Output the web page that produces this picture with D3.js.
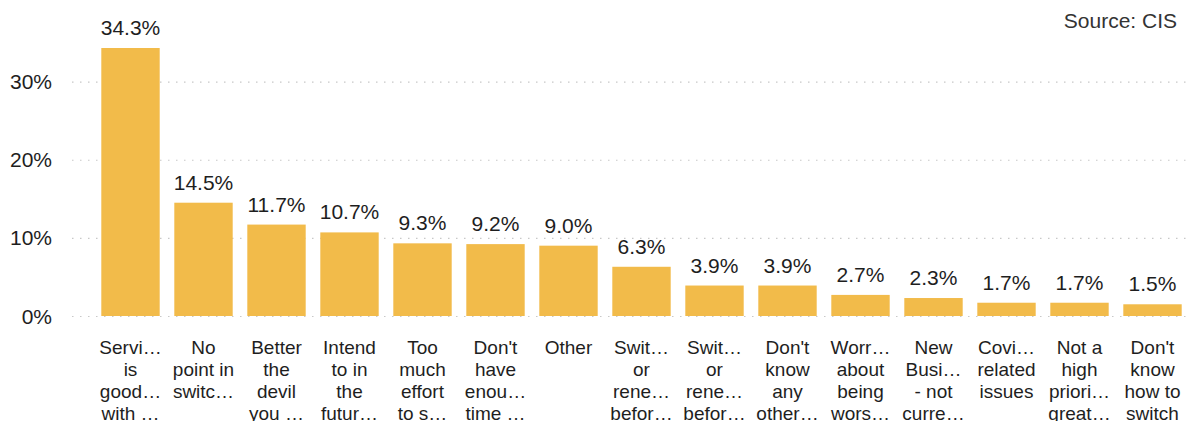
<!DOCTYPE html>
<html>
<head>
<meta charset="utf-8">
<script src="https://cdn.jsdelivr.net/npm/d3@7"></script>
<style>
  body { margin: 0; background: #fff; }
  svg text { font-family: "Liberation Sans", Arial, sans-serif; fill: #1e1e1e; }
</style>
</head>
<body>
<svg id="chart" width="1190" height="421"></svg>
<script>
// reasons for not switching, as shown (wrapped + truncated) under each bar
let categories = [
    ["Servi\u2026", "is", "good\u2026", "with \u2026"],
    ["No", "point in", "switc\u2026"],
    ["Better", "the", "devil", "you \u2026"],
    ["Intend", "to in", "the", "futur\u2026"],
    ["Too", "much", "effort", "to s\u2026"],
    ["Don't", "have", "enou\u2026", "time \u2026"],
    ["Other"],
    ["Swit\u2026", "or", "rene\u2026", "befor\u2026"],
    ["Swit\u2026", "or", "rene\u2026", "befor\u2026"],
    ["Don't", "know", "any", "other\u2026"],
    ["Worr\u2026", "about", "being", "wors\u2026"],
    ["New", "Busi\u2026", "- not", "curre\u2026"],
    ["Covi\u2026", "related", "issues"],
    ["Not a", "high", "priori\u2026", "great\u2026"],
    ["Don't", "know", "how to", "switch"]
];
let values = [34.3, 14.5, 11.7, 10.7, 9.3, 9.2, 9.0, 6.3, 3.9, 3.9, 2.7, 2.3, 1.7, 1.7, 1.5];
let y_ticks = [0, 10, 20, 30];

let svg = d3.select("#chart");
let margin = {top: 48, bottom: 105, left: 94, right: 1};
let width = 1190, height = 421;

let x = d3.scaleBand()
    .domain(d3.range(values.length))
    .range([margin.left, width - margin.right])
    .paddingInner(0.2)
    .paddingOuter(0.1);

let y = d3.scaleLinear()
    .domain([0, 34.3])
    .range([height - margin.bottom, margin.top]);

/*** gridlines + y labels ***/
svg.selectAll("line.grid")
    .data(y_ticks).enter()
    .append("line")
    .attr("x1", 72)
    .attr("x2", width)
    .attr("y1", (d) => y(d) + 0.5)
    .attr("y2", (d) => y(d) + 0.5)
    .attr("stroke", "#c8c8c8")
    .attr("stroke-width", 1.2)
    .attr("stroke-dasharray", "1.5,6.5");

svg.selectAll("text.y-label")
    .data(y_ticks).enter()
    .append("text")
    .attr("x", 52)
    .attr("y", (d) => y(d))
    .attr("dy", "0.36em")
    .attr("text-anchor", "end")
    .style("font-size", "21px")
    .text((d) => d + "%");

/*** bars ***/
svg.selectAll("rect.bar")
    .data(values).enter()
    .append("rect")
    .attr("x", (d, i) => x(i))
    .attr("y", (d) => y(d))
    .attr("width", x.bandwidth())
    .attr("height", (d) => y(0) - y(d))
    .attr("fill", "#f2bb4a");

svg.selectAll("text.value")
    .data(values).enter()
    .append("text")
    .attr("x", (d, i) => x(i) + x.bandwidth() / 2)
    .attr("y", (d) => y(d) - 13)
    .attr("text-anchor", "middle")
    .style("font-size", "21px")
    .text((d) => d.toFixed(1) + "%");

/*** category labels ***/
let labels = svg.selectAll("text.cat")
    .data(categories).enter()
    .append("text")
    .attr("text-anchor", "middle")
    .style("font-size", "19px");

labels.selectAll("tspan")
    .data((d, i) => d.map((t) => ({t: t, i: i}))).enter()
    .append("tspan")
    .attr("x", (d) => x(d.i) + x.bandwidth() / 2)
    .attr("y", (d, j) => 354 + j * 22)
    .text((d) => d.t);

svg.append("text")
    .attr("x", 1177)
    .attr("y", 28)
    .attr("text-anchor", "end")
    .style("font-size", "21px")
    .style("fill", "#333")
    .text("Source: CIS");
</script>
</body>
</html>
